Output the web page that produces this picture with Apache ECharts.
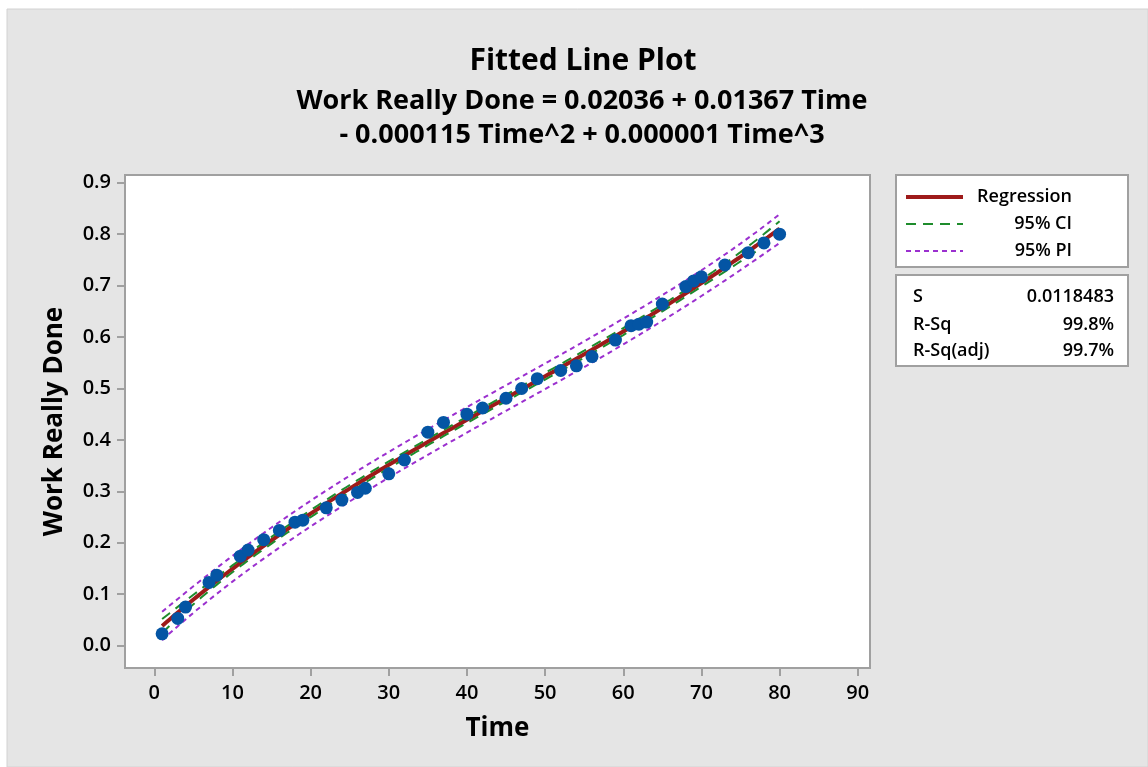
<!DOCTYPE html>
<html>
<head>
<meta charset="utf-8">
<title>Fitted Line Plot</title>
<script src="https://cdn.jsdelivr.net/npm/echarts@6/dist/echarts.min.js"></script>
<style>
  html, body { margin: 0; padding: 0; background: #ffffff; }
  #chart { width: 1148px; height: 767px; }
</style>
</head>
<body>
<div id="chart"></div>
<script>
// Observations
const timeValues = [1, 3, 4, 7, 8, 11, 12, 14, 16, 18, 19, 22, 24, 26, 27, 30, 32, 35, 37, 40,
  42, 45, 47, 49, 52, 54, 56, 59, 61, 62, 63, 65, 68, 69, 70, 73, 76, 78, 80];
const workValues = [0.023, 0.053, 0.075, 0.123, 0.137, 0.174, 0.186, 0.206, 0.224, 0.240,
  0.244, 0.268, 0.283, 0.298, 0.306, 0.334, 0.361, 0.415, 0.434, 0.450,
  0.462, 0.481, 0.500, 0.519, 0.535, 0.544, 0.562, 0.594, 0.622, 0.625,
  0.629, 0.664, 0.698, 0.709, 0.717, 0.740, 0.764, 0.783, 0.800];

// Axis ticks
const xTicks = [0, 10, 20, 30, 40, 50, 60, 70, 80, 90];
const yTicks = [0, 0.1, 0.2, 0.3, 0.4, 0.5, 0.6, 0.7, 0.8, 0.9];

// Header, legend and summary text
const titleText = 'Fitted Line Plot';
const equationLines = ['Work Really Done = 0.02036 + 0.01367 Time',
  '- 0.000115 Time^2 + 0.000001 Time^3'];
const legendNames = ['Regression', '95% CI', '95% PI'];
const statNames = ['S', 'R-Sq', 'R-Sq(adj)'];
const statValues = ['0.0118483', '99.8%', '99.7%'];
const sValue = 0.0118483;     // residual standard error of the fit
const tCrit = 2.0301;         // t(0.975, n - 4) for 39 observations

const FONT = "'Open Sans', 'Noto Sans', 'DejaVu Sans', sans-serif";

// Least-squares cubic fit (x scaled for numerical stability)
function fitCubic(xs, ys, scale) {
  const p = 4;
  const A = Array.from({ length: p }, () => new Array(p).fill(0));
  const b = new Array(p).fill(0);
  for (let i = 0; i < xs.length; i++) {
    const u = xs[i] / scale;
    const r = [1, u, u * u, u * u * u];
    for (let j = 0; j < p; j++) {
      b[j] += r[j] * ys[i];
      for (let k = 0; k < p; k++) A[j][k] += r[j] * r[k];
    }
  }
  // Gauss-Jordan inverse of X'X
  const M = A.map((row, i) => row.concat(Array.from({ length: p }, (_, k) => (k === i ? 1 : 0))));
  for (let c = 0; c < p; c++) {
    let piv = c;
    for (let r = c + 1; r < p; r++) if (Math.abs(M[r][c]) > Math.abs(M[piv][c])) piv = r;
    [M[c], M[piv]] = [M[piv], M[c]];
    const d = M[c][c];
    for (let k = 0; k < 2 * p; k++) M[c][k] /= d;
    for (let r = 0; r < p; r++) {
      if (r === c) continue;
      const f = M[r][c];
      for (let k = 0; k < 2 * p; k++) M[r][k] -= f * M[c][k];
    }
  }
  const inv = M.map(row => row.slice(p));
  const beta = inv.map(row => row.reduce((s, v, k) => s + v * b[k], 0));
  return { beta, inv, scale };
}

const fit = fitCubic(timeValues, workValues, 80);

function predict(x) {
  const u = x / fit.scale;
  const r = [1, u, u * u, u * u * u];
  const yhat = r.reduce((s, v, k) => s + v * fit.beta[k], 0);
  let q = 0;
  for (let j = 0; j < 4; j++) for (let k = 0; k < 4; k++) q += r[j] * fit.inv[j][k] * r[k];
  return { yhat, seFit: sValue * Math.sqrt(q), sePred: sValue * Math.sqrt(1 + q) };
}

const xLo = Math.min(...timeValues), xHi = Math.max(...timeValues);
const regLine = [], ciUp = [], ciLo = [], piUp = [], piLo = [];
for (let x = xLo; x <= xHi + 1e-9; x += 0.5) {
  const p = predict(x);
  regLine.push([x, p.yhat]);
  ciUp.push([x, p.yhat + tCrit * p.seFit]);
  ciLo.push([x, p.yhat - tCrit * p.seFit]);
  piUp.push([x, p.yhat + tCrit * p.sePred]);
  piLo.push([x, p.yhat - tCrit * p.sePred]);
}
const points = timeValues.map((t, i) => [t, workValues[i]]);

const RED = '#9e1a1a', GREEN = '#1e8c2c', PURPLE = '#9b30cf', BLUE = '#0455a4';
const AXIS_GRAY = '#a0a0a0';
const CI_DASH = [10, 7], PI_DASH = [5, 4];

function lineSeries(name, data, color, width, type, z) {
  return {
    name, type: 'line', data, showSymbol: false, symbol: 'none', smooth: false,
    lineStyle: { color, width, type }, itemStyle: { color }, z, silent: true, animation: false
  };
}

function textTitle(text, x, y, align, size, weight) {
  return { text, left: x, top: y, textAlign: align, textVerticalAlign: 'middle', padding: 0,
    textStyle: { fontFamily: FONT, fontSize: size, fontWeight: weight, color: '#000' } };
}

const titles = [
  textTitle(titleText, 583, 61, 'center', 30, 'bold'),
  textTitle(equationLines[0], 582, 101, 'center', 27, 'bold'),
  textTitle(equationLines[1], 582, 135, 'center', 27, 'bold')
];
// Legend labels, right-aligned next to their line samples
const legendYs = [197, 224, 251];
legendNames.forEach((n, i) => titles.push(textTitle(n, 1072, legendYs[i], 'right', 18, 600)));
// Summary statistics
const statYs = [297, 325, 351];
statNames.forEach((n, i) => {
  titles.push(textTitle(n, 913, statYs[i], 'left', 18, 600));
  titles.push(textTitle(statValues[i], 1114, statYs[i], 'right', 18, 600));
});

const legendLine = (y, color, width, dash) => ({
  type: 'line', z: 5, shape: { x1: 906, y1: y, x2: 963, y2: y },
  style: { stroke: color, lineWidth: width, lineDash: dash }
});

const option = {
  backgroundColor: '#ffffff',
  animation: false,
  title: titles,
  graphic: [
    { type: 'rect', z: -10, shape: { x: 7, y: 9, width: 1141, height: 758 },
      style: { fill: '#e5e5e5', stroke: '#d2d2d2', lineWidth: 1 } },
    { type: 'rect', z: -5, shape: { x: 896, y: 175, width: 232, height: 92 },
      style: { fill: '#ffffff', stroke: AXIS_GRAY, lineWidth: 2 } },
    { type: 'rect', z: -5, shape: { x: 896, y: 275, width: 232, height: 91 },
      style: { fill: '#ffffff', stroke: AXIS_GRAY, lineWidth: 2 } },
    legendLine(legendYs[0], RED, 4, null),
    legendLine(legendYs[1], GREEN, 2, CI_DASH),
    legendLine(legendYs[2], PURPLE, 2, PI_DASH)
  ],
  grid: {
    left: 125, top: 175, width: 745, height: 493, show: true,
    backgroundColor: '#ffffff', borderColor: AXIS_GRAY, borderWidth: 2
  },
  xAxis: {
    type: 'value', min: -3.75, max: 91.57,
    name: 'Time', nameLocation: 'middle', nameGap: 48,
    nameTextStyle: { fontFamily: FONT, fontSize: 26, fontWeight: 'bold', color: '#000' },
    axisLine: { show: false, onZero: false },
    axisTick: { show: true, length: 8, customValues: xTicks, lineStyle: { color: AXIS_GRAY, width: 2 } },
    axisLabel: { customValues: xTicks, margin: 15, fontFamily: FONT, fontSize: 20, fontWeight: 600, color: '#000' },
    splitLine: { show: false }
  },
  yAxis: {
    type: 'value', min: -0.0434, max: 0.915,
    name: 'Work Really Done', nameLocation: 'middle', nameGap: 57,
    nameTextStyle: { fontFamily: FONT, fontSize: 26, fontWeight: 'bold', color: '#000' },
    axisLine: { show: false, onZero: false },
    axisTick: { show: true, length: 8, customValues: yTicks, lineStyle: { color: AXIS_GRAY, width: 2 } },
    axisLabel: { customValues: yTicks, margin: 14, fontFamily: FONT, fontSize: 20, fontWeight: 600, color: '#000',
      formatter: v => v.toFixed(1) },
    splitLine: { show: false }
  },
  series: [
    lineSeries('Regression', regLine, RED, 4, 'solid', 2),
    lineSeries('95% CI', ciUp, GREEN, 2, CI_DASH, 3),
    lineSeries('95% CI', ciLo, GREEN, 2, CI_DASH, 3),
    lineSeries('95% PI', piUp, PURPLE, 2, PI_DASH, 4),
    lineSeries('95% PI', piLo, PURPLE, 2, PI_DASH, 4),
    {
      name: 'Observations', type: 'scatter', data: points, symbol: 'circle', symbolSize: 13,
      itemStyle: { color: BLUE, opacity: 1 }, z: 10, silent: true, animation: false
    }
  ]
};

const chart = echarts.init(document.getElementById('chart'), null, { renderer: 'canvas' });
chart.setOption(option);
</script>
</body>
</html>
